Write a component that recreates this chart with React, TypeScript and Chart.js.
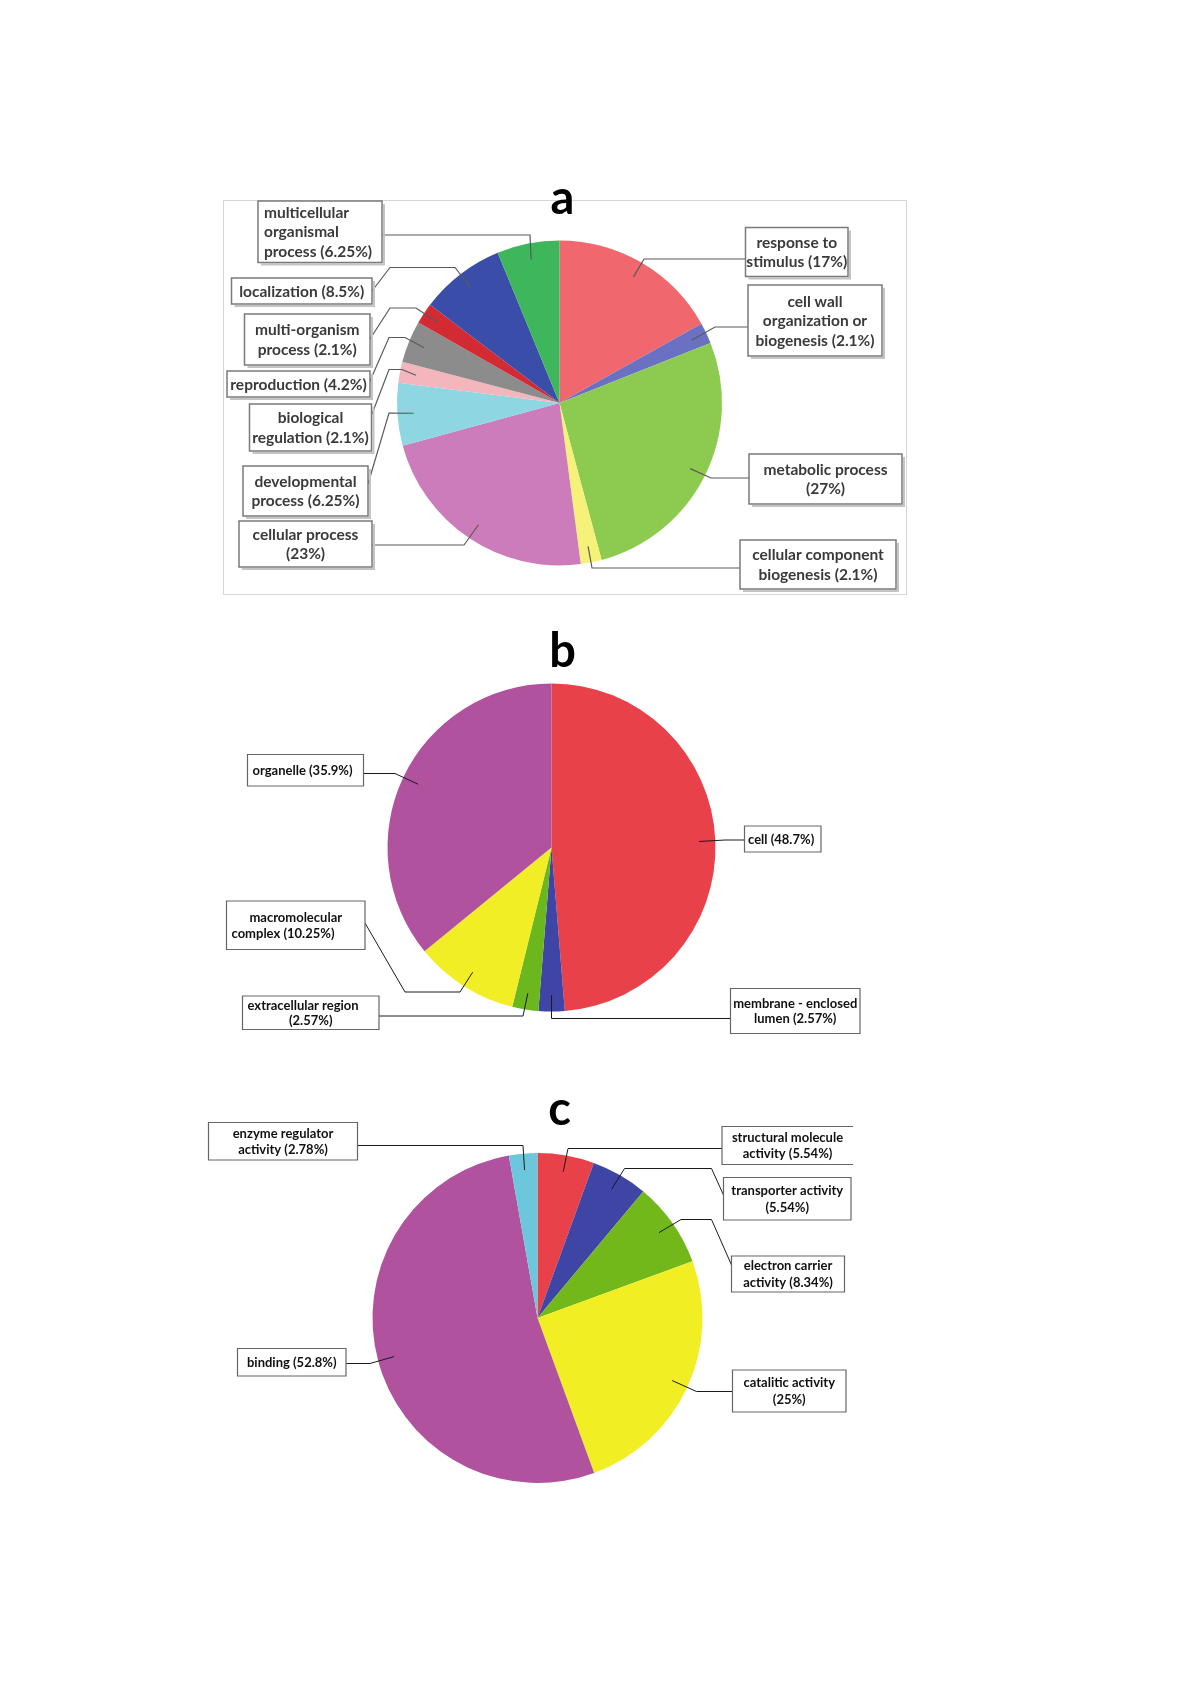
import React, { useEffect, useRef } from "react";
import { Chart, registerables } from "chart.js";

Chart.register(...registerables);

const PAGE_W = 1200;
const PAGE_H = 1697;

// ---------------- (a) biological process ----------------
const bpCategories = [
  "response to stimulus",
  "cell wall organization or biogenesis",
  "metabolic process",
  "cellular component biogenesis",
  "cellular process",
  "developmental process",
  "biological regulation",
  "reproduction",
  "multi-organism process",
  "localization",
  "multicellular organismal process",
];
const bpValues = [17, 2.1, 27, 2.1, 23, 6.25, 2.1, 4.2, 2.1, 8.5, 6.25];
const bpColors = [
  "#F0686E",
  "#6A70C2",
  "#8DCB50",
  "#F6F178",
  "#CC7CBB",
  "#8DD6E2",
  "#F4B6BD",
  "#8C8C8C",
  "#D22B33",
  "#3A4DA8",
  "#3EB65B",
];

// ---------------- (b) cellular component ----------------
const ccCategories = [
  "cell",
  "membrane - enclosed lumen",
  "extracellular region",
  "macromolecular complex",
  "organelle",
];
const ccValues = [48.7, 2.57, 2.57, 10.25, 35.9];
const ccColors = ["#E8414A", "#3E45A5", "#6BB71D", "#F2EE26", "#B0529E"];

// ---------------- (c) molecular function ----------------
const mfCategories = [
  "structural molecule activity",
  "transporter activity",
  "electron carrier activity",
  "catalitic activity",
  "binding",
  "enzyme regulator activity",
];
const mfValues = [5.54, 5.54, 8.34, 25, 52.8, 2.78];
const mfColors = ["#E8414A", "#3E45A5", "#72B81B", "#F2EE24", "#B0529E", "#6CC7DC"];

// ---------------- layout (positions / styles only) ----------------
type Align = "left" | "center";
type LabelLayout = {
  box: number[]; // x, y, w, h
  wrap: number[]; // words per line
  align?: Align[];
  pad?: number;
  path: number[][]; // from box to elbow(s); final point comes from the slice
  noRight?: boolean;
};

const layoutA: LabelLayout[] = [
  { box: [745.5, 227.5, 102.5, 49], wrap: [2, 2], path: [[745.5, 259], [644, 259]] },
  { box: [748, 285, 134, 71], wrap: [2, 2, 2], path: [[748, 327], [715, 327]] },
  { box: [749, 454, 153, 50], wrap: [2, 1], path: [[749, 478], [711, 478]] },
  { box: [740, 540, 156, 49], wrap: [2, 2], path: [[740, 568], [592, 568]] },
  { box: [239, 521, 133, 46], wrap: [2, 1], path: [[372, 545], [464, 545]] },
  { box: [243, 466, 125, 50], wrap: [1, 2], path: [[368, 484], [389, 413]] },
  { box: [249.5, 404, 122, 47], wrap: [1, 2], path: [[372, 414], [389, 369.5], [402, 369.5]] },
  { box: [227, 371, 143, 26], wrap: [2], path: [[370, 381], [389, 337.5], [405, 337.5]] },
  { box: [244.5, 314, 125.5, 51], wrap: [1, 2], path: [[370, 339], [390, 308], [416, 308]] },
  { box: [231.5, 278, 140.5, 26], wrap: [2], path: [[372, 291], [390, 267.5], [455, 267.5]] },
  { box: [258, 201, 124, 61.5], wrap: [1, 1, 2], align: ["left", "left", "left"], pad: 6, path: [[382, 235], [530, 235]] },
];

const layoutB: LabelLayout[] = [
  { box: [744.5, 826, 76.5, 26], wrap: [2], align: ["left"], pad: 3.5, path: [[744.5, 840], [725, 840]] },
  { box: [730.5, 988.5, 129.5, 45], wrap: [3, 2], path: [[730.5, 1018.5], [551.5, 1018.5]] },
  { box: [242.5, 996, 136.5, 33.5], wrap: [2, 1], align: ["left", "center"], pad: 5, path: [[379, 1016], [523, 1016]] },
  { box: [226.5, 901, 138.5, 48.5], wrap: [1, 2], align: ["center", "left"], pad: 5, path: [[365, 923], [405, 992], [460, 992]] },
  { box: [247.5, 754.5, 116, 31.5], wrap: [2], align: ["left"], pad: 5, path: [[363.5, 773.5], [395, 773.5]] },
];

const layoutC: LabelLayout[] = [
  { box: [722, 1126.5, 131, 38], wrap: [2, 2], noRight: true, path: [[722, 1148.5], [568, 1148.5]] },
  { box: [723.5, 1177.5, 127.5, 42.5], wrap: [2, 1], path: [[723.5, 1195], [711.5, 1168.5], [624.5, 1168.5]] },
  { box: [731.5, 1256, 113, 36], wrap: [2, 2], path: [[731.5, 1265], [711.5, 1219.5], [681, 1219.5]] },
  { box: [732.5, 1370, 113.5, 42], wrap: [2, 1], path: [[732.5, 1391.5], [696.5, 1391.5]] },
  { box: [237.5, 1348.5, 108.5, 27.5], wrap: [2], path: [[346, 1363.5], [370, 1363.5]] },
  { box: [208.5, 1122.5, 149, 37.5], wrap: [2, 2], path: [[357.5, 1145.5], [523, 1145.5]] },
];

type Style = {
  font: string;
  textColor: string;
  lineH: number;
  boxColor: string;
  boxWidth: number;
  shadow: boolean;
  leaderColor: string;
  leaderWidth: number;
};

const styleA: Style = {
  font: "bold 15.5px Lato",
  textColor: "#3a3a3a",
  lineH: 19.5,
  boxColor: "#7a7a7a",
  boxWidth: 1.5,
  shadow: true,
  leaderColor: "#5a5a5a",
  leaderWidth: 1.2,
};
const styleBC: Style = {
  font: "bold 13px Lato",
  textColor: "#111111",
  lineH: 15.5,
  boxColor: "#666666",
  boxWidth: 1.2,
  shadow: false,
  leaderColor: "#1a1a1a",
  leaderWidth: 1,
};

type Spec = {
  title: string;
  titlePos: number[];
  categories: string[];
  values: number[];
  colors: string[];
  layout: LabelLayout[];
  pie: { cx: number; cy: number; r: number };
  style: Style;
  frame?: number[];
};

const specs: Spec[] = [
  {
    title: "a",
    titlePos: [562.5, 214],
    categories: bpCategories,
    values: bpValues,
    colors: bpColors,
    layout: layoutA,
    pie: { cx: 559.5, cy: 403, r: 162.5 },
    style: styleA,
    frame: [223, 200, 683, 394],
  },
  {
    title: "b",
    titlePos: [562.5, 667],
    categories: ccCategories,
    values: ccValues,
    colors: ccColors,
    layout: layoutB,
    pie: { cx: 551.5, cy: 847.5, r: 164 },
    style: styleBC,
  },
  {
    title: "c",
    titlePos: [559.5, 1125],
    categories: mfCategories,
    values: mfValues,
    colors: mfColors,
    layout: layoutC,
    pie: { cx: 537.5, cy: 1318, r: 165 },
    style: { ...styleBC, lineH: 16.5 },
  },
];

function labelLines(cat: string, val: number, wrap: number[]): string[] {
  const words = `${cat} (${val}%)`.split(" ");
  const lines: string[] = [];
  let k = 0;
  for (const n of wrap) {
    lines.push(words.slice(k, k + n).join(" "));
    k += n;
  }
  if (k < words.length) lines[lines.length - 1] += " " + words.slice(k).join(" ");
  return lines;
}

function makeCallouts(spec: Spec) {
  return {
    id: "callouts-" + spec.title,
    afterDraw(chart: any) {
      const ctx: CanvasRenderingContext2D = chart.ctx;
      const st = spec.style;
      ctx.save();
      if (spec.frame) {
        const [fx, fy, fw, fh] = spec.frame;
        ctx.strokeStyle = "#d6d6d6";
        ctx.lineWidth = 1;
        ctx.strokeRect(fx + 0.5, fy + 0.5, fw, fh);
      }
      ctx.fillStyle = "#000";
      ctx.font = "bold 47px Lato";
      ctx.textAlign = "center";
      ctx.textBaseline = "alphabetic";
      ctx.fillText(spec.title, spec.titlePos[0], spec.titlePos[1]);

      const meta = chart.getDatasetMeta(0);
      meta.data.forEach((el: any, i: number) => {
        const L = spec.layout[i];
        if (!L) return;
        const p = el.getProps(["x", "y", "startAngle", "endAngle", "outerRadius"], true);
        const mid = (p.startAngle + p.endAngle) / 2;
        const ex = p.x + Math.cos(mid) * p.outerRadius * 0.9;
        const ey = p.y + Math.sin(mid) * p.outerRadius * 0.9;

        // leader line
        ctx.strokeStyle = st.leaderColor;
        ctx.lineWidth = st.leaderWidth;
        ctx.beginPath();
        ctx.moveTo(L.path[0][0], L.path[0][1]);
        for (let k = 1; k < L.path.length; k++) ctx.lineTo(L.path[k][0], L.path[k][1]);
        ctx.lineTo(ex, ey);
        ctx.stroke();

        // box
        const [bx, by, bw, bh] = L.box;
        ctx.fillStyle = "#ffffff";
        ctx.fillRect(bx, by, bw, bh);
        if (st.shadow) {
          ctx.strokeStyle = "#c4c4c4";
          ctx.lineWidth = 2;
          ctx.beginPath();
          ctx.moveTo(bx + bw + 2, by + 3);
          ctx.lineTo(bx + bw + 2, by + bh + 2);
          ctx.lineTo(bx + 3, by + bh + 2);
          ctx.stroke();
        }
        ctx.strokeStyle = st.boxColor;
        ctx.lineWidth = st.boxWidth;
        ctx.beginPath();
        if (L.noRight) {
          ctx.moveTo(bx + bw, by);
          ctx.lineTo(bx, by);
          ctx.lineTo(bx, by + bh);
          ctx.lineTo(bx + bw, by + bh);
        } else {
          ctx.rect(bx, by, bw, bh);
        }
        ctx.stroke();

        // text
        const lines = labelLines(spec.categories[i], spec.values[i], L.wrap);
        ctx.font = st.font;
        ctx.fillStyle = st.textColor;
        ctx.textBaseline = "middle";
        const total = lines.length * st.lineH;
        const y0 = by + bh / 2 - total / 2 + st.lineH / 2 + 0.5;
        lines.forEach((ln, j) => {
          const al: Align = L.align ? L.align[j] : "center";
          if (al === "left") {
            ctx.textAlign = "left";
            ctx.fillText(ln, bx + (L.pad ?? 5), y0 + j * st.lineH);
          } else {
            ctx.textAlign = "center";
            ctx.fillText(ln, bx + bw / 2, y0 + j * st.lineH);
          }
        });
      });
      ctx.restore();
    },
  };
}

function PieFigure({ spec }: { spec: Spec }) {
  const ref = useRef<HTMLCanvasElement | null>(null);
  useEffect(() => {
    const canvas = ref.current;
    if (!canvas) return;
    const { cx, cy, r } = spec.pie;
    const chart = new Chart(canvas, {
      type: "pie",
      data: {
        labels: spec.categories,
        datasets: [
          {
            data: spec.values,
            backgroundColor: spec.colors,
            borderWidth: 0,
          },
        ],
      },
      options: {
        responsive: false,
        animation: false,
        devicePixelRatio: 1,
        events: [],
        layout: {
          padding: {
            left: cx - r,
            top: cy - r,
            right: PAGE_W - cx - r,
            bottom: PAGE_H - cy - r,
          },
        },
        plugins: {
          legend: { display: false },
          tooltip: { enabled: false },
          title: { display: false },
        },
      } as any,
      plugins: [makeCallouts(spec)],
    });
    return () => chart.destroy();
  }, [spec]);
  return (
    <canvas
      ref={ref}
      width={PAGE_W}
      height={PAGE_H}
      style={{ position: "absolute", left: 0, top: 0, width: PAGE_W, height: PAGE_H }}
    />
  );
}

export default function App() {
  return (
    <div
      style={{
        position: "absolute",
        left: 0,
        top: 0,
        width: PAGE_W,
        height: PAGE_H,
        background: "#ffffff",
        overflow: "hidden",
      }}
    >
      {specs.map((s) => (
        <PieFigure key={s.title} spec={s} />
      ))}
    </div>
  );
}
